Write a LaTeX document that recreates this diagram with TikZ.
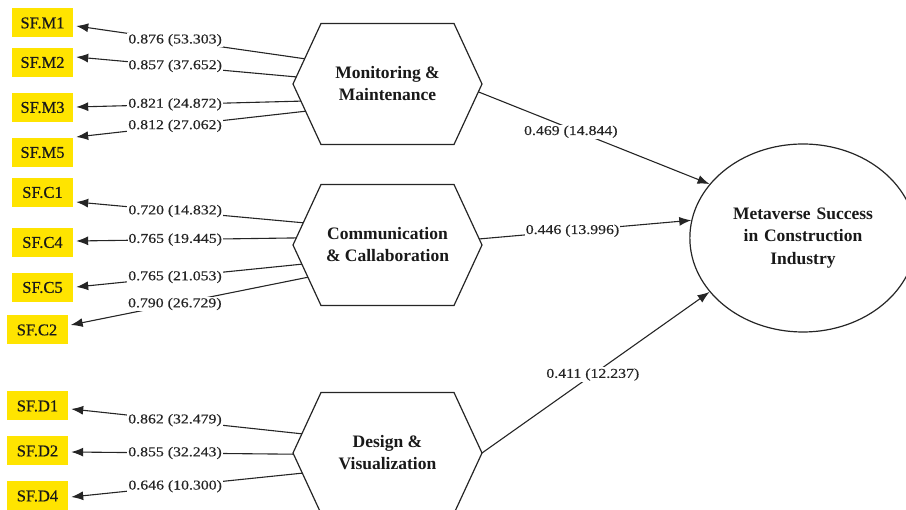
\documentclass[tikz,border=0pt]{standalone}
\usepackage{fontspec}
\setmainfont{Liberation Serif}
\newfontfamily\numfont[FakeStretch=1.17,FakeBold=0.4]{Liberation Serif}
\newfontfamily\indfont[FakeBold=0.5]{Liberation Serif}
\usetikzlibrary{arrows.meta,shapes.geometric,calc}
\definecolor{boxyellow}{HTML}{FFE400}
\definecolor{ink}{HTML}{252525}
\newcommand{\myhex}[3]{%
  \coordinate (#1W) at (#2-94.5,#3);
  \coordinate (#1NW) at (#2-66.5,#3-60.5);
  \coordinate (#1NE) at (#2+66.5,#3-60.5);
  \coordinate (#1E) at (#2+94.5,#3);
  \coordinate (#1SE) at (#2+66.5,#3+60.5);
  \coordinate (#1SW) at (#2-66.5,#3+60.5);
  \draw[hexedge] (#1W)--(#1NW)--(#1NE)--(#1E)--(#1SE)--(#1SW)--cycle;}
\begin{document}
\begin{tikzpicture}[x=1pt,y=-1pt,
  ind/.style={fill=boxyellow, minimum width=61pt, minimum height=29pt, inner sep=0pt,
    font=\indfont\fontsize{16.5}{18}\selectfont, text=black!90},
  hexedge/.style={draw=ink, line width=1.2pt, fill=white},
  conn/.style={draw=ink, line width=1.1pt, -{Latex[length=12pt,width=9pt]}},
  lbl/.style={fill=white, inner sep=1pt, font=\numfont\fontsize{13.5}{15}\selectfont, text=ink},
  hextext/.style={align=center, font=\bfseries\fontsize{17.5}{22}\selectfont, text=black!90},
]
\useasboundingbox (0,0) rectangle (906,510);
\clip (0,0) rectangle (906,510);

% hexagons
\myhex{A}{387.5}{84}
\myhex{B}{387.5}{245}
\myhex{C}{387.5}{453}
\node[hextext] (TA) at (387.5,84) {Monitoring \&\\Maintenance};
\node[hextext] (TB) at (387.5,244.5) {Communication\\\& Callaboration};
\node[hextext] (TC) at (387.5,452.5) {Design \&\\Visualization};

% outcome
\node[ellipse, draw=ink, line width=1.2pt, minimum width=222pt, minimum height=188pt,
  inner sep=0pt, hextext, text width=160pt, font=\bfseries\fontsize{17.5}{22.5}\selectfont]
  (S) at (803,238) {Metaverse Success\\in Construction\\Industry};

% indicators
\node[ind] (M1) at (42.5,23) {SF.M1};
\node[ind] (M2) at (42.5,62.5) {SF.M2};
\node[ind] (M3) at (42.5,107.5) {SF.M3};
\node[ind] (M5) at (42.5,152.5) {SF.M5};
\node[ind] (C1) at (42.5,192.5) {SF.C1};
\node[ind] (C4) at (42.5,242.5) {SF.C4};
\node[ind] (C5) at (42.5,287.5) {SF.C5};
\node[ind] (C2) at (37,330) {SF.C2};
\node[ind] (D1) at (37.5,406) {SF.D1};
\node[ind] (D2) at (37.5,451) {SF.D2};
\node[ind] (D4) at (37.5,496) {SF.D4};

% loadings
\draw[conn] ($(AW)!0.417!(ANW)$) -- node[lbl,pos=0.567]{0.876 (53.303)} ($(M1.east)+(3,3)$);
\draw[conn] ($(AW)!0.117!(ANW)$) -- node[lbl,pos=0.55]{0.857 (37.652)} ($(M2.east)+(3,-5.5)$);
\draw[conn] ($(AW)!0.283!(ASW)$) -- node[lbl,pos=0.56]{0.821 (24.872)} ($(M3.east)+(3,-0.5)$);
\draw[conn] ($(AW)!0.45!(ASW)$) -- node[lbl,pos=0.569]{0.812 (27.062)} ($(M5.east)+(3,-15.5)$);

\draw[conn] ($(BW)!0.367!(BNW)$) -- node[lbl,pos=0.564]{0.720 (14.832)} ($(C1.east)+(3,9.5)$);
\draw[conn] ($(BW)!0.117!(BNW)$) -- node[lbl,pos=0.55]{0.765 (19.445)} ($(C4.east)+(3,-1.5)$);
\draw[conn] ($(BW)!0.317!(BSW)$) -- node[lbl,pos=0.562]{0.765 (21.053)} ($(C5.east)+(3,-0.5)$);
\draw[conn] ($(BW)!0.533!(BSW)$) -- node[lbl,pos=0.561]{0.790 (26.729)} ($(C2.east)+(3,-5)$);

\draw[conn] ($(CW)!0.317!(CNW)$) -- node[lbl,pos=0.55]{0.862 (32.479)} ($(D1.east)+(3,3)$);
\draw[conn] ($(CW)!0.02!(CSW)$) -- node[lbl,pos=0.533]{0.855 (32.243)} ($(D2.east)+(3,1)$);
\draw[conn] ($(CW)!0.333!(CSW)$) -- node[lbl,pos=0.55]{0.646 (10.300)} ($(D4.east)+(3,1)$);

% paths
\draw[conn] ($(AE)!0.13!(ASE)$) -- node[lbl,pos=0.40,yshift=-3pt]{0.469 (14.844)} (S.150.3);
\draw[conn] ($(BE)!0.1!(BNE)$) -- node[lbl,pos=0.44]{0.446 (13.996)} (S.171.3);
\draw[conn] (CE) -- node[lbl,pos=0.487]{0.411 (12.237)} (S.210.1);
\end{tikzpicture}
\end{document}
